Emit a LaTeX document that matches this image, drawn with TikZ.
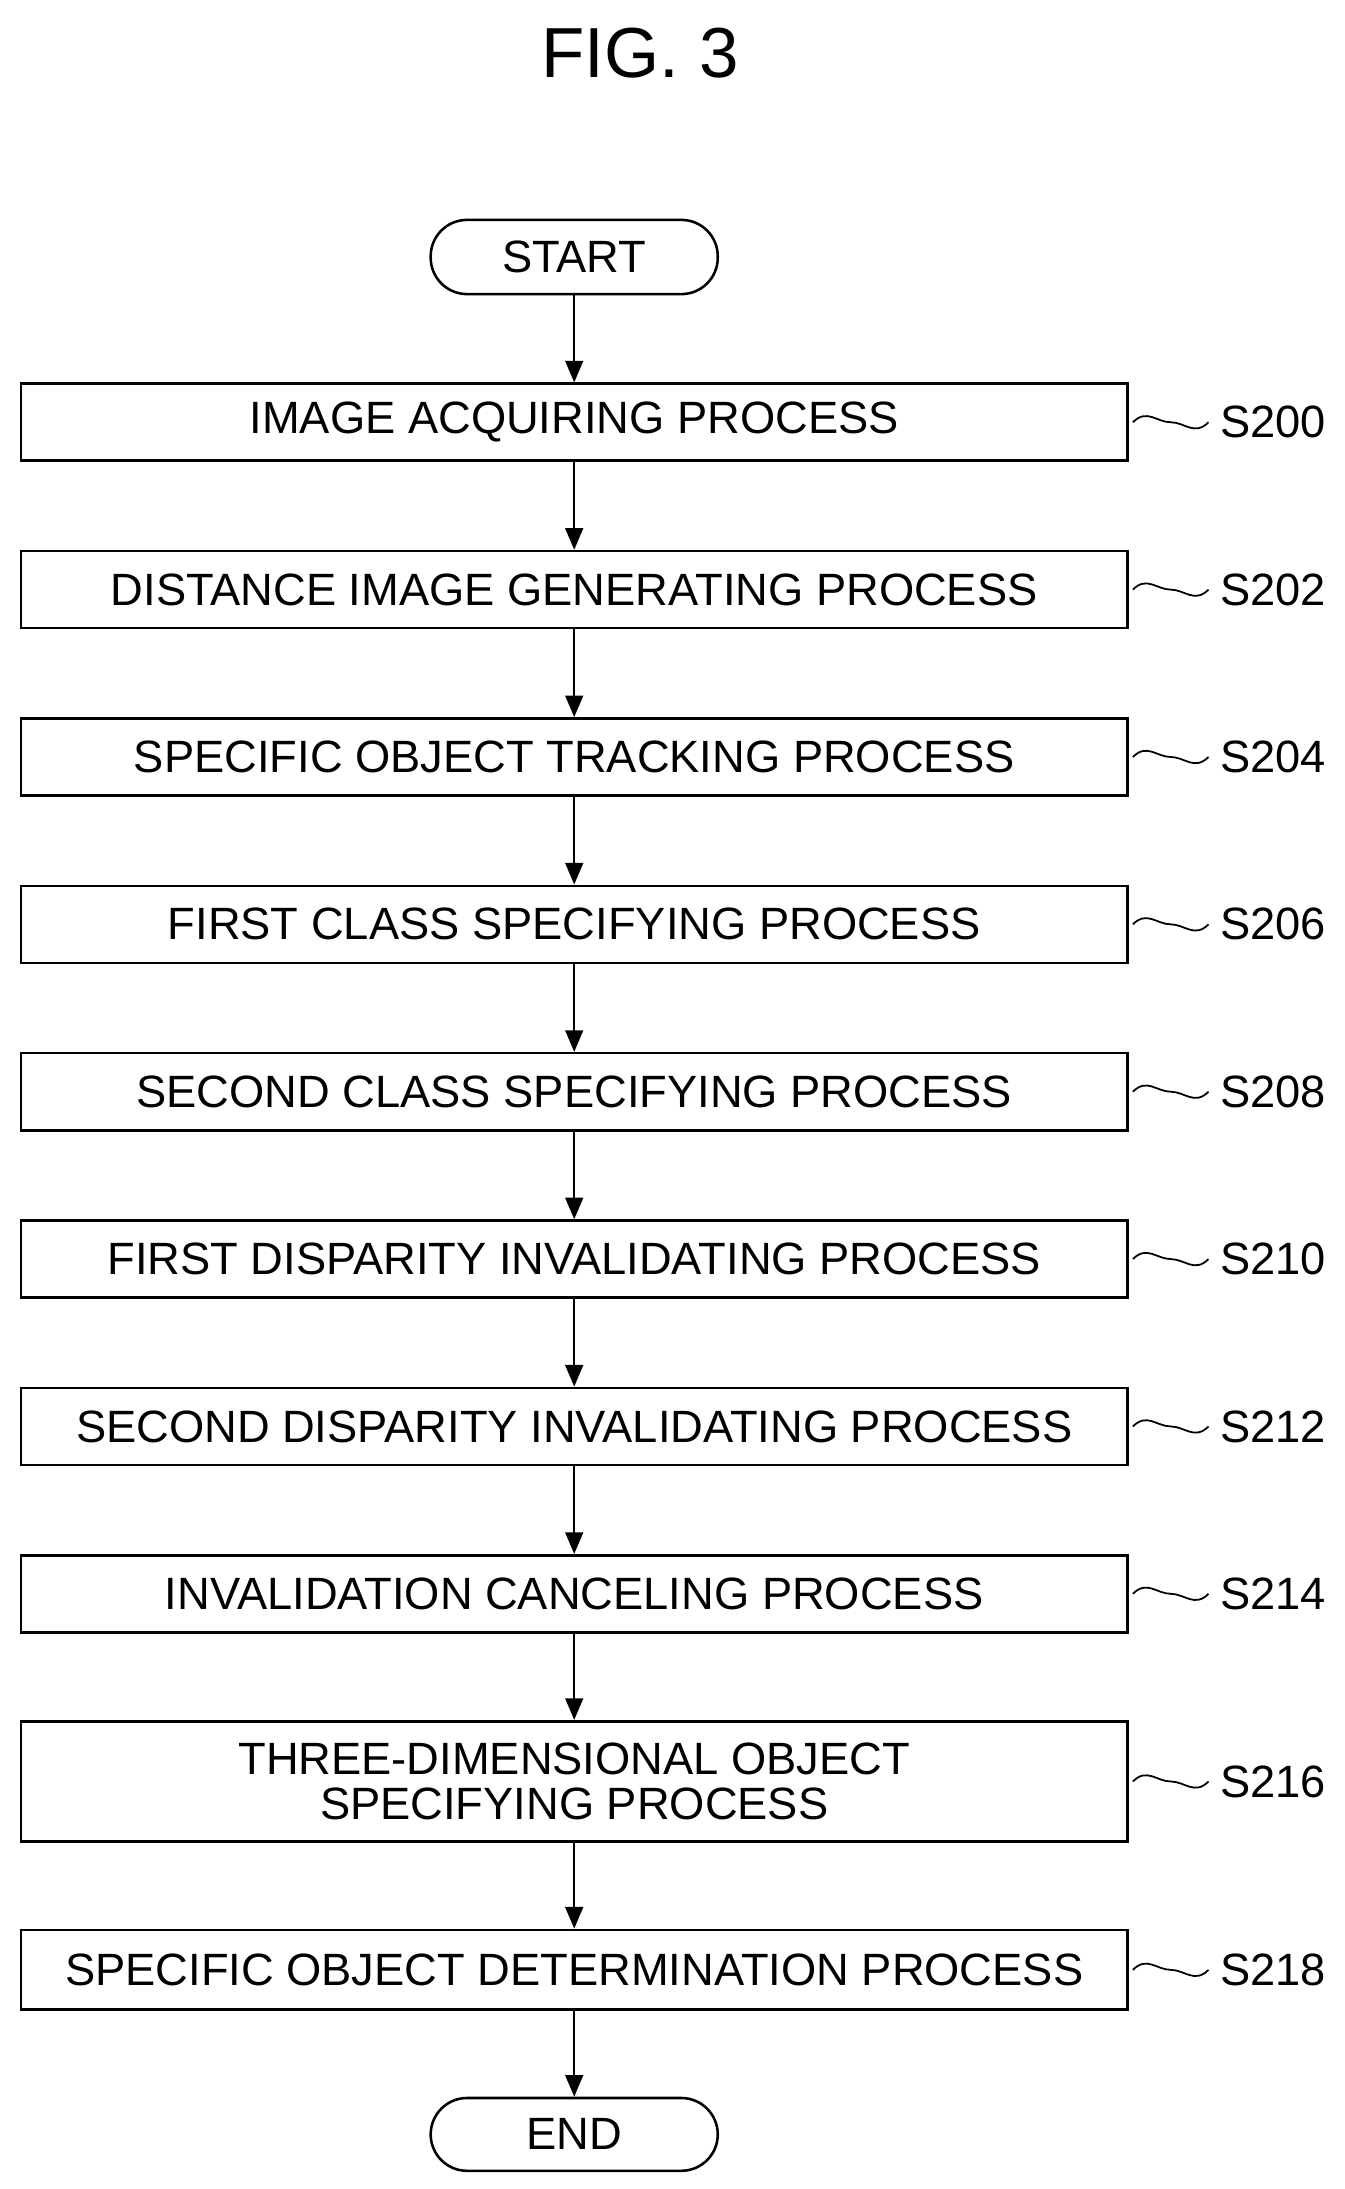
\documentclass[tikz,border=0pt]{standalone}
\usepackage{fontspec}
\setmainfont{Liberation Sans}
\usetikzlibrary{arrows.meta}
\begin{document}
\begin{tikzpicture}[x=0.05cm,y=-0.05cm,
  box/.style={draw,line width=2.6pt,minimum width=39.5cm,inner sep=0pt,align=center,font=\fontsize{46}{46}\selectfont},
  lab/.style={anchor=west,font=\fontsize{46}{46}\selectfont},
  sq/.style={line width=1.8pt},
  arr/.style={line width=2.4pt,-{Triangle[length=22pt,width=18pt]}}]
\useasboundingbox (0,0) rectangle (960,1563);
\node[font=\fontsize{72}{72}\selectfont] (title) at (457,38) {FIG. 3};
\node[draw,line width=2.6pt,rounded corners=1.3cm,minimum width=10.25cm,minimum height=2.65cm,font=\fontsize{46}{46}\selectfont] (start) at (410,183.5) {START};
\foreach \n/\t/\s [count=\k from 0] in {b0/IMAGE ACQUIRING PROCESS/S200,b1/DISTANCE IMAGE GENERATING PROCESS/S202,b2/SPECIFIC OBJECT TRACKING PROCESS/S204,b3/FIRST CLASS SPECIFYING PROCESS/S206,b4/SECOND CLASS SPECIFYING PROCESS/S208,b5/FIRST DISPARITY INVALIDATING PROCESS/S210,b6/SECOND DISPARITY INVALIDATING PROCESS/S212,b7/INVALIDATION CANCELING PROCESS/S214}{
  \node[box,minimum height=2.75cm] (\n) at (410,{301.5+119.5*\k}) {\t};
  \draw[sq] (\n.east) ++(3,0) .. controls +(10,-10) and +(-10,0) .. ++(27,0) .. controls +(10,0) and +(-10,10) .. ++(27,0) coordinate (\n e);
  \node[lab] (\n l) at ([xshift=0.3cm]\n e) {\s};
}
\node[box,minimum height=4.3cm] (b8) at (410,1272) {THREE-DIMENSIONAL OBJECT\\SPECIFYING PROCESS};
\node[box,minimum height=2.85cm] (b9) at (410,1406.5) {SPECIFIC OBJECT DETERMINATION PROCESS};
\foreach \n/\s in {b8/S216,b9/S218}{
  \draw[sq] (\n.east) ++(3,0) .. controls +(10,-10) and +(-10,0) .. ++(27,0) .. controls +(10,0) and +(-10,10) .. ++(27,0) coordinate (\n e);
  \node[lab] (\n l) at ([xshift=0.3cm]\n e) {\s};
}
\node[draw,line width=2.6pt,rounded corners=1.3cm,minimum width=10.25cm,minimum height=2.6cm,font=\fontsize{46}{46}\selectfont] (end) at (410,1524) {END};
\draw[arr] (start) -- (b0);
\foreach \a/\b in {b0/b1,b1/b2,b2/b3,b3/b4,b4/b5,b5/b6,b6/b7,b7/b8,b8/b9,b9/end}{\draw[arr] (\a) -- (\b);}
\end{tikzpicture}
\end{document}
